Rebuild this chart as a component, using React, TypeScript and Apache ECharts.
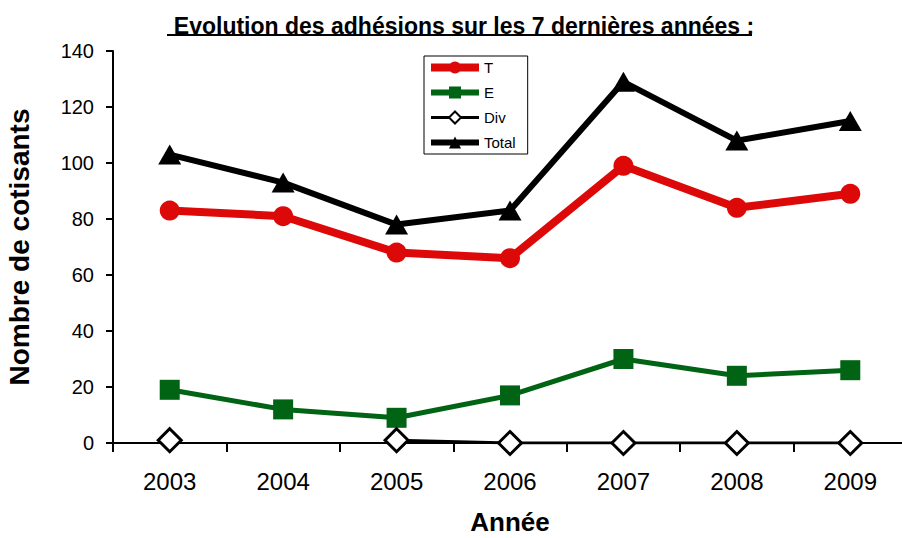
import React, { useEffect, useRef } from "react";
import * as echarts from "echarts";

const years = ["2003", "2004", "2005", "2006", "2007", "2008", "2009"];
const seriesT = [83, 81, 68, 66, 99, 84, 89];
const seriesE = [19, 12, 9, 17, 30, 24, 26];
const seriesDiv: (number | null)[] = [1, null, 1, 0, 0, 0, 0];
const seriesTotal = [103, 93, 78, 83, 129, 108, 115];

const FONT = "Liberation Sans, Arial, sans-serif";
const RED = "#dd0808";
const GREEN = "#006414";

export default function App() {
  const ref = useRef<HTMLDivElement>(null);
  useEffect(() => {
    if (!ref.current) return;
    const chart = echarts.init(ref.current, undefined, { renderer: "svg" });
    chart.setOption({
      animation: false,
      backgroundColor: "#ffffff",
      textStyle: { fontFamily: FONT },
      title: {
        text: "Evolution des adhésions sur les 7 dernières années :",
        left: 459,
        textAlign: "center",
        top: 9,
        textStyle: { fontFamily: FONT, fontSize: 23, fontWeight: "bold", color: "#000" },
      },
      graphic: [
        {
          type: "line",
          shape: { x1: 167, y1: 35, x2: 752, y2: 35 },
          style: { stroke: "#000", lineWidth: 2 },
        },
      ],
      legend: {
        orient: "vertical",
        left: 424,
        top: 56,
        itemWidth: 48,
        itemHeight: 15,
        itemGap: 10,
        padding: [4, 12, 4, 3],
        borderColor: "#000",
        borderWidth: 1,
        textStyle: { fontFamily: FONT, fontSize: 15, color: "#000" },
        data: [
          { name: "T", lineStyle: { width: 8, color: RED } },
          { name: "E", lineStyle: { width: 6, color: GREEN } },
          { name: "Div", lineStyle: { width: 3, color: "#000" } },
          { name: "Total", lineStyle: { width: 6, color: "#000" } },
        ],
      },
      grid: {
        left: 113,
        right: -5,
        top: 51,
        bottom: 95,
        containLabel: false,
        outerBoundsMode: "none",
      },
      xAxis: {
        type: "category",
        data: years,
        boundaryGap: true,
        name: "Année",
        nameLocation: "middle",
        nameGap: 66,
        nameTextStyle: { fontFamily: FONT, fontSize: 26, lineHeight: 26, fontWeight: "bold", color: "#000" },
        axisLine: { lineStyle: { color: "#000", width: 2 } },
        axisTick: { show: true, length: 9, alignWithLabel: false, lineStyle: { color: "#000", width: 2 } },
        axisLabel: { fontFamily: FONT, fontSize: 24, color: "#000", margin: 26 },
        splitLine: { show: false },
      },
      yAxis: {
        type: "value",
        min: 0,
        max: 140,
        interval: 20,
        name: "Nombre de cotisants",
        nameLocation: "middle",
        nameGap: 80,
        nameTextStyle: { fontFamily: FONT, fontSize: 28, fontWeight: "bold", color: "#000" },
        axisLine: { show: true, lineStyle: { color: "#000", width: 2 } },
        axisTick: { show: true, length: 7, lineStyle: { color: "#000", width: 2 } },
        axisLabel: { fontFamily: FONT, fontSize: 20, color: "#000", margin: 19 },
        splitLine: { show: false },
      },
      series: [
        {
          name: "T",
          type: "line",
          data: seriesT,
          symbol: "circle",
          symbolSize: 20,
          lineStyle: { color: RED, width: 8 },
          itemStyle: { color: RED },
          z: 3,
        },
        {
          name: "E",
          type: "line",
          data: seriesE,
          symbol: "rect",
          symbolSize: 20,
          lineStyle: { color: GREEN, width: 5 },
          itemStyle: { color: GREEN },
          z: 3,
        },
        {
          name: "Div",
          type: "line",
          data: seriesDiv,
          symbol: "diamond",
          symbolSize: 23,
          lineStyle: { color: "#000", width: 3 },
          itemStyle: { color: "#fff", borderColor: "#000", borderWidth: 3 },
          connectNulls: false,
          z: 4,
        },
        {
          name: "Total",
          type: "line",
          data: seriesTotal,
          symbol: "triangle",
          symbolSize: [23, 20],
          lineStyle: { color: "#000", width: 6 },
          itemStyle: { color: "#000" },
          z: 3,
        },
      ],
    });
    return () => chart.dispose();
  }, []);
  return (
    <div
      ref={ref}
      style={{ position: "absolute", left: 0, top: 0, width: 902, height: 538 }}
    />
  );
}
